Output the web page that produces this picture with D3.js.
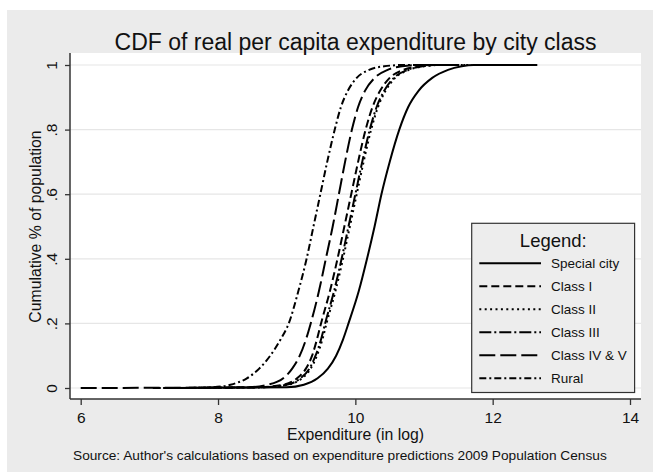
<!DOCTYPE html>
<html>
<head>
<meta charset="utf-8">
<script src="https://cdn.jsdelivr.net/npm/d3@7"></script>
<style>
  html, body { margin: 0; padding: 0; background: #ffffff; }
  svg { display: block; font-family: "Liberation Sans", Arial, sans-serif; }
</style>
</head>
<body>
<svg id="chart" width="653" height="472"></svg>
<script>
// ---- Data ----
const titleText = "CDF of real per capita expenditure by city class";
const xTitle = "Expenditure (in log)";
const yTitle = "Cumulative % of population";
const noteText = "Source: Author's calculations based on expenditure predictions 2009 Population Census";
const legendTitle = "Legend:";

const xTicks = [6, 8, 10, 12, 14];
const yTicks = [0, 0.2, 0.4, 0.6, 0.8, 1];
const yTickLabels = ["0", ".2", ".4", ".6", ".8", "1"];

const seriesNames = ["Special city", "Class I", "Class II", "Class III", "Class IV & V", "Rural"];

// cumulative share levels at which each series' expenditure (log) was read
const cdfLevels = [0, 0.002, 0.01, 0.03, 0.06, 0.10, 0.15, 0.20, 0.30, 0.40, 0.50,
                   0.60, 0.70, 0.80, 0.87, 0.92, 0.96, 0.985, 0.996, 1, 1];

const specialCityX = [7.30, 9.00, 9.25, 9.45, 9.60, 9.72, 9.82, 9.90, 10.05, 10.17, 10.28,
                      10.38, 10.50, 10.64, 10.77, 10.92, 11.12, 11.35, 11.55, 11.72, 12.65];
const classIX      = [7.05, 8.55, 8.95, 9.15, 9.28, 9.37, 9.44, 9.50, 9.63, 9.74, 9.84,
                      9.94, 10.04, 10.15, 10.25, 10.36, 10.50, 10.70, 10.92, 11.15, 11.60];
const classIIX     = [7.40, 8.62, 9.02, 9.22, 9.35, 9.44, 9.52, 9.58, 9.71, 9.82, 9.92,
                      10.02, 10.12, 10.23, 10.33, 10.44, 10.58, 10.78, 11.00, 11.22, 11.70];
const classIIIX    = [7.20, 8.60, 9.00, 9.20, 9.33, 9.42, 9.50, 9.56, 9.69, 9.80, 9.90,
                      10.00, 10.10, 10.21, 10.31, 10.42, 10.56, 10.76, 10.98, 11.20, 11.50];
const classIVVX    = [6.00, 8.40, 8.72, 8.95, 9.08, 9.19, 9.28, 9.35, 9.47, 9.57, 9.67,
                      9.76, 9.85, 9.95, 10.04, 10.14, 10.28, 10.47, 10.68, 10.90, 11.50];
const ruralX       = [7.50, 7.90, 8.18, 8.42, 8.60, 8.76, 8.91, 9.03, 9.17, 9.29, 9.39,
                      9.49, 9.59, 9.70, 9.79, 9.89, 10.02, 10.20, 10.42, 10.70, 11.30];

const seriesX = [specialCityX, classIX, classIIX, classIIIX, classIVVX, ruralX];
const dashes = ["none", "8,4", "2,3.4", "12,3,2,3", "16,5", "7,3,2,3"];

// ---- Layout ----
const W = 653, H = 472;
const svg = d3.select("#chart");

svg.append("rect").attr("x", 7).attr("y", 10).attr("width", W - 7).attr("height", H - 10).attr("fill", "#ebebeb");

const plot = { left: 70, right: 641, top: 53, bottom: 399 };
svg.append("rect")
  .attr("x", plot.left).attr("y", plot.top)
  .attr("width", plot.right - plot.left).attr("height", plot.bottom - plot.top)
  .attr("fill", "#ffffff");

const x = d3.scaleLinear().domain([6, 14]).range([80.7, 630]);
const y = d3.scaleLinear().domain([0, 1]).range([388, 65]);

// gridlines
svg.append("g").selectAll("line").data(yTicks).join("line")
  .attr("x1", plot.left).attr("x2", plot.right)
  .attr("y1", d => y(d)).attr("y2", d => y(d))
  .attr("stroke", "#e6e6e6").attr("stroke-width", 1.2);

// curves
const line = d3.line()
  .x(d => x(d.x)).y(d => y(d.p))
  .curve(d3.curveMonotoneX);

const seriesData = seriesX.map((xs, i) => ({
  name: seriesNames[i],
  dash: dashes[i],
  pts: xs.map((v, j) => ({ x: v, p: cdfLevels[j] }))
}));

svg.append("g").selectAll("path").data(seriesData).join("path")
  .attr("d", d => line(d.pts))
  .attr("fill", "none")
  .attr("stroke", "#000")
  .attr("stroke-width", 2)
  .attr("stroke-dasharray", d => d.dash);

// axes
const xAxis = d3.axisBottom(x).tickValues(xTicks).tickSize(6).tickSizeOuter(0).tickFormat(d => d);
const gx = svg.append("g").attr("transform", `translate(0,${plot.bottom})`).call(xAxis);
gx.select(".domain").remove();
gx.selectAll(".tick line").attr("stroke", "#333").attr("stroke-width", 1.3);
gx.selectAll(".tick text").attr("font-size", 15.5).attr("fill", "#111")
  .attr("font-family", "Liberation Sans, Arial, sans-serif")
  .attr("y", 0).attr("dy", 0).attr("transform", "translate(0,24)");

const yAxis = d3.axisLeft(y).tickValues(yTicks).tickSize(5).tickSizeOuter(0).tickFormat((d, i) => yTickLabels[i]);
const gy = svg.append("g").attr("transform", `translate(${plot.left},0)`).call(yAxis);
gy.select(".domain").remove();
gy.selectAll(".tick line").attr("stroke", "#333").attr("stroke-width", 1.3);
gy.selectAll(".tick text")
  .attr("font-size", 15.5).attr("fill", "#111")
  .attr("font-family", "Liberation Sans, Arial, sans-serif")
  .attr("x", 0).attr("dy", 0)
  .attr("text-anchor", "middle")
  .attr("transform", "translate(-13,0) rotate(-90)");

// axis lines
svg.append("line").attr("x1", plot.left).attr("x2", plot.right).attr("y1", plot.bottom).attr("y2", plot.bottom)
  .attr("stroke", "#333").attr("stroke-width", 1.5);
svg.append("line").attr("x1", plot.left).attr("x2", plot.left).attr("y1", plot.top).attr("y2", plot.bottom)
  .attr("stroke", "#333").attr("stroke-width", 1.5);

// titles
svg.append("text").attr("x", (plot.left + plot.right) / 2).attr("y", 50)
  .attr("text-anchor", "middle").attr("font-size", 23).attr("fill", "#111").text(titleText);
svg.append("text").attr("x", (plot.left + plot.right) / 2).attr("y", 440)
  .attr("text-anchor", "middle").attr("font-size", 15.8).attr("fill", "#111").text(xTitle);
svg.append("text").attr("transform", `translate(41,${(y(0) + y(1)) / 2}) rotate(-90)`)
  .attr("text-anchor", "middle").attr("font-size", 15.8).attr("fill", "#111").text(yTitle);
svg.append("text").attr("x", 73).attr("y", 460)
  .attr("font-size", 13.7).attr("fill", "#111").text(noteText);

// legend
const lg = svg.append("g");
lg.append("rect").attr("x", 471.7).attr("y", 223.3).attr("width", 162.9).attr("height", 169.2)
  .attr("fill", "#ededed").attr("stroke", "#333").attr("stroke-width", 1.2);
lg.append("text").attr("x", 553.3).attr("y", 247).attr("text-anchor", "middle")
  .attr("font-size", 18.5).attr("fill", "#111").text(legendTitle);
const rows = lg.selectAll("g.row").data(seriesData).join("g").attr("class", "row")
  .attr("transform", (d, i) => `translate(0,${263.3 + i * 23})`);
rows.append("line").attr("x1", 479.3).attr("x2", 541).attr("y1", 0).attr("y2", 0)
  .attr("stroke", "#000").attr("stroke-width", 2).attr("stroke-dasharray", d => d.dash);
rows.append("text").attr("x", 551).attr("y", 5).attr("font-size", 13.5).attr("fill", "#111").text(d => d.name);
</script>
</body>
</html>
